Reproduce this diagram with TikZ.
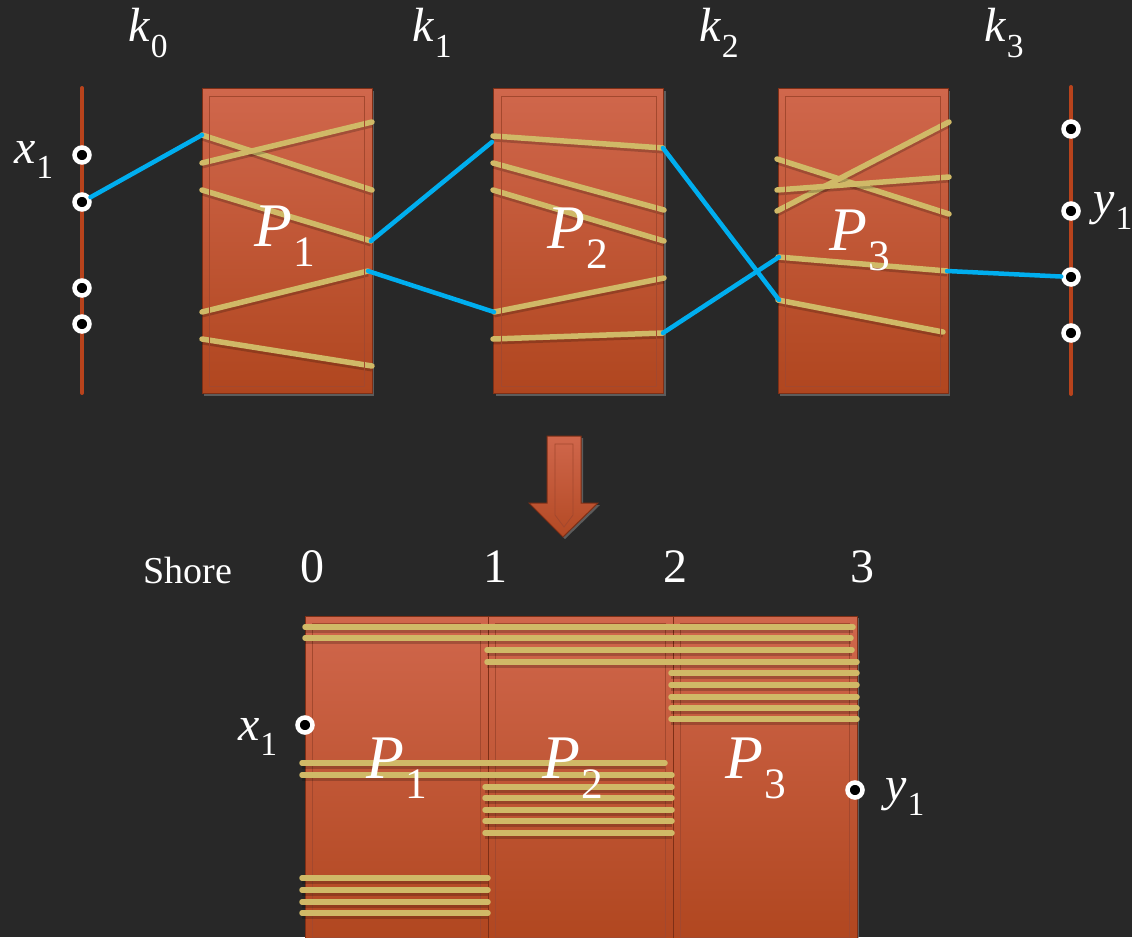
\documentclass[tikz,border=0pt]{standalone}
\usepackage{fontspec}
\setmainfont{Liberation Serif}
\usetikzlibrary{calc,shadows}
\definecolor{board}{HTML}{282828}
\definecolor{bricktop}{HTML}{D0674C}
\definecolor{brickbot}{HTML}{B0461F}
\definecolor{brickedge}{HTML}{7E2F16}
\definecolor{ropetan}{HTML}{D0B967}
\definecolor{wireblue}{HTML}{00AEEF}
\definecolor{railred}{HTML}{B8431C}
\newcommand{\lab}[2]{\textit{#1}\kern0.01em\raisebox{-0.32em}{\scalebox{0.7}{#2}}}

\begin{document}
\begin{tikzpicture}[x=1pt,y=-1pt,
  brick/.style={draw=brickedge,line width=1pt,top color=bricktop,bottom color=brickbot,inner sep=0pt,
    drop shadow={opacity=0.6,shadow xshift=2pt,shadow yshift=-2pt}},
  bevel/.style={draw=brickedge!55!bricktop,line width=0.8pt},
  rope/.style={draw=ropetan,line width=5.5pt,line cap=round,
    preaction={draw=black,opacity=0.2,line width=6pt,transform canvas={yshift=-2.5pt}}},
  wire/.style={draw=wireblue,line width=4.5pt,line cap=round},
  rail/.style={draw=railred,line width=4pt,line cap=round},
  port/.style={circle,fill=black,draw=white,line width=4.5pt,inner sep=0pt,minimum size=15pt},
  big/.style={text=white,inner sep=0pt,font=\fontsize{62}{62}\selectfont},
  mid/.style={text=white,inner sep=0pt,font=\fontsize{48}{48}\selectfont},
  small/.style={text=white,inner sep=0pt,font=\fontsize{38}{38}\selectfont}]
\useasboundingbox (0,0) rectangle (1132,937);
\clip (0,0) rectangle (1132,937);
\fill[board] (0,0) rectangle (1132,937);

% top: the three blocks between the shores
\node[mid] (k0) at (148,33) {\lab{k}{0}};
\node[mid] (k1) at (432,33) {\lab{k}{1}};
\node[mid] (k2) at (719,33) {\lab{k}{2}};
\node[mid] (k3) at (1004,33) {\lab{k}{3}};

\node[brick,minimum width=170pt,minimum height=305pt] (p1) at (287,241) {};
\node[brick,minimum width=170pt,minimum height=305pt] (p2) at (578.5,241) {};
\node[brick,minimum width=170pt,minimum height=305pt] (p3) at (863,241) {};

\coordinate (la) at (82,88);
\coordinate (lb) at (82,393);
\coordinate (ra) at (1071,87);
\coordinate (rb) at (1071,394);
\draw[rail] (la) -- (lb);
\draw[rail] (ra) -- (rb);

% ropes
\draw[rope] (202,135) -- (372,190);
\draw[rope] (202,163) -- (372,122);
\draw[rope] (202,190) -- (371,241);
\draw[rope] (202,312) -- (368,271);
\draw[rope] (202,339) -- (372,366);
\draw[rope] (493,136) -- (663,148);
\draw[rope] (493,163) -- (664,210);
\draw[rope] (493,190) -- (664,241);
\draw[rope] (494,312) -- (664,278);
\draw[rope] (493,339) -- (663,333);
\draw[rope] (777,159) -- (949,214);
\draw[rope] (777,211) -- (949,122);
\draw[rope] (777,190) -- (949,177);
\draw[rope] (778,257) -- (947,271);
\draw[rope] (778,300) -- (943,332);

\node[big] (t1) at (285,236) {\lab{P}{1}};
\node[big] (t2) at (578,238) {\lab{P}{2}};
\node[big] (t3) at (860,240) {\lab{P}{3}};

\node[port] (a1) at (82,155) {};
\node[port] (a2) at (82,202) {};
\node[port] (a3) at (82,288) {};
\node[port] (a4) at (82,324) {};
\node[port] (b1) at (1071,129) {};
\node[port] (b2) at (1071,211) {};
\node[port] (b3) at (1071,277) {};
\node[port] (b4) at (1071,333) {};
\node[mid] (x1) at (34,160) {\lab{x}{1}};
\node[mid] (y1) at (1113,211) {\lab{y}{1}};

% path of the walk
\coordinate (s1) at (202,135);
\coordinate (s2) at (371,241);
\coordinate (s3) at (492,142);
\coordinate (s4) at (368,271);
\coordinate (s5) at (494,312);
\coordinate (s6) at (663,148);
\coordinate (s7) at (779,300);
\coordinate (s8) at (663,333);
\coordinate (s9) at (779,257);
\coordinate (s10) at (947,271);
\draw[wire] (a2) -- (s1);
\draw[wire] (s2) -- (s3);
\draw[wire] (s4) -- (s5);
\draw[wire] (s6) -- (s7);
\draw[wire] (s8) -- (s9);
\draw[wire] (s10) -- (b3);

% arrow down
\filldraw[draw=brickedge,line width=1pt,top color=bricktop,bottom color=brickbot!90!bricktop,
  drop shadow={opacity=0.6,shadow xshift=2pt,shadow yshift=-2pt}]
  (547,436) -- (581,436) -- (581,503) -- (598,503) -- (563,537) -- (529,503) -- (547,503) -- cycle;
\draw[bevel] (555,444) -- (573,444) -- (573,515) -- (564,527) -- (555,515) -- cycle;

% bottom: merged shore
\node[small] (sh) at (188,570) {Shore};
\node[mid] (n0) at (312,567) {0};
\node[mid] (n1) at (495,567) {1};
\node[mid] (n2) at (675,567) {2};
\node[mid] (n3) at (862,567) {3};

\node[brick,minimum width=183pt,minimum height=329pt] (q1) at (396.5,780.5) {};
\node[brick,minimum width=185pt,minimum height=329pt] (q2) at (580.5,780.5) {};
\node[brick,minimum width=184pt,minimum height=329pt] (q3) at (765,780.5) {};

\foreach \b in {p1,p2,p3,q1,q2,q3}
  \draw[bevel] ($(\b.north west)+(8,8)$) rectangle ($(\b.south east)+(-8,-8)$);

\draw[rope] (305,627) -- (853,627);
\draw[rope] (305,638) -- (851,638);
\draw[rope] (487,650) -- (852,650);
\draw[rope] (487,662) -- (857,662);
\foreach \y in {673,685,697,708,719}
  \draw[rope] (671,\y) -- (857,\y);
\draw[rope] (302,763) -- (665,763);
\draw[rope] (302,775) -- (672,775);
\foreach \y in {787,798,810,821,833}
  \draw[rope] (485,\y) -- (672,\y);
\foreach \y in {878,890,902,913}
  \draw[rope] (302,\y) -- (488,\y);

\node[big] (u1) at (397,768) {\lab{P}{1}};
\node[big] (u2) at (573,768) {\lab{P}{2}};
\node[big] (u3) at (756,768) {\lab{P}{3}};

\node[port] (c1) at (305,725) {};
\node[port] (c2) at (855,790) {};
\node[mid] (x1b) at (258,737) {\lab{x}{1}};
\node[mid] (y1b) at (905,797) {\lab{y}{1}};
\end{tikzpicture}
\end{document}
